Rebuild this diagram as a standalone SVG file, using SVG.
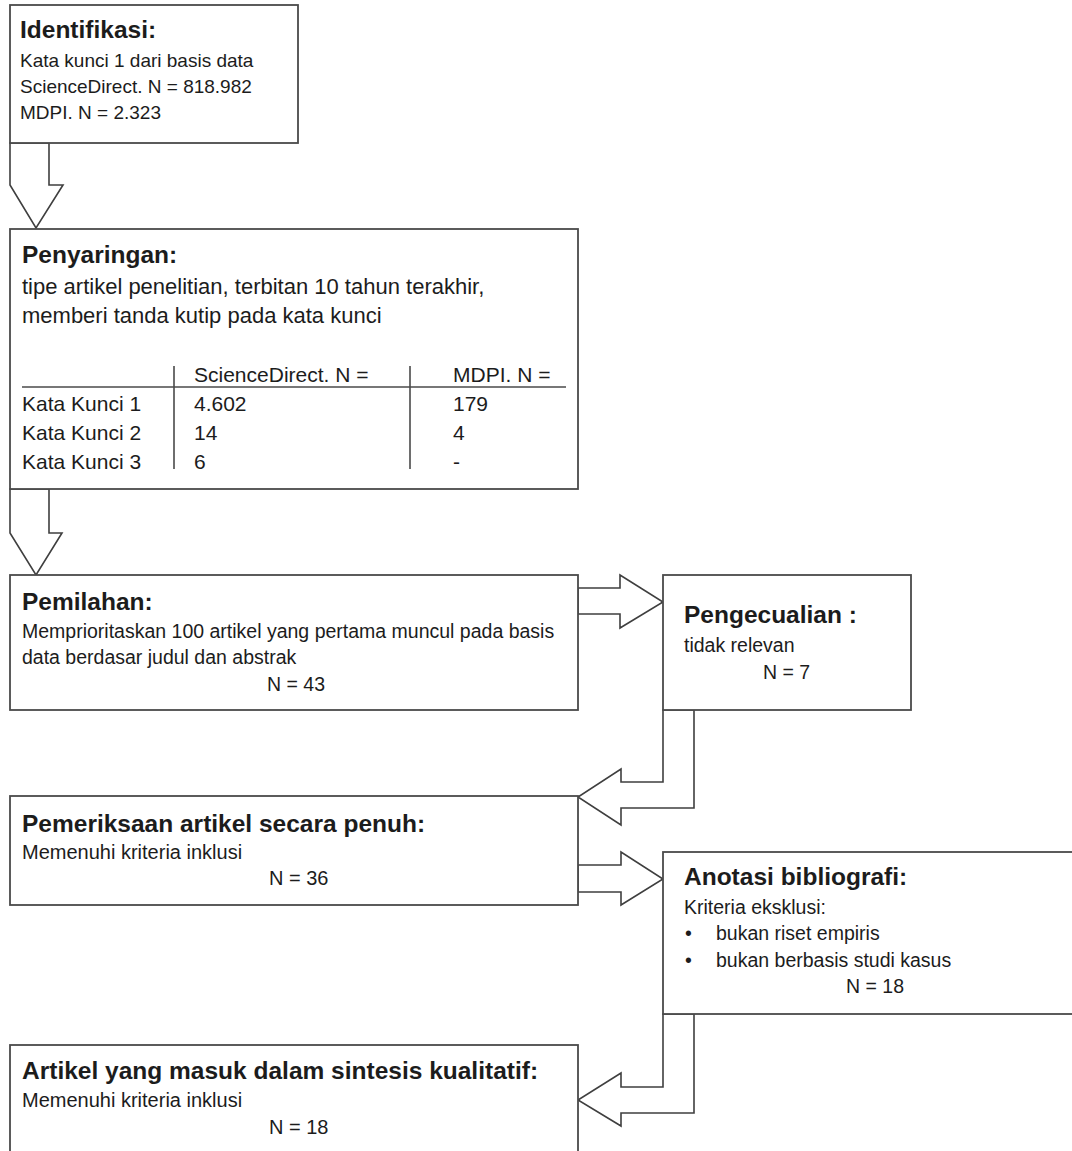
<svg xmlns="http://www.w3.org/2000/svg" width="1072" height="1151" viewBox="0 0 1072 1151">
<style>
.box{fill:#fff;stroke:#4a4a4a;stroke-width:1.8}
.arr{fill:#fff;stroke:#3f3f3f;stroke-width:1.6;stroke-linejoin:miter}
.tl{stroke:#4a4a4a;stroke-width:1.6;fill:none}
text{font-family:"Liberation Sans",Arial,sans-serif;fill:#1c1c1c}
.t{font-weight:bold;font-size:24.5px}
.b19{font-size:19px}
.b195{font-size:19.5px}
.b20{font-size:20px}
.b22{font-size:22px}
.b21{font-size:21px}
</style>
<rect width="1072" height="1151" fill="#fff"/>
<g id="connectors">
<polygon class="arr" points="49,143 49,185 63,185 36,228 10,185 10,143"/>
<polygon class="arr" points="49,489 49,533 62,533 36,575 10,533 10,489"/>
<polygon class="arr" points="578,588 620,588 620,575 663,602 620,628 620,614 578,614"/>
<polygon class="arr" points="663,710 663,782 621,782 621,769 578,797 621,825 621,808 694,808 694,710"/>
<polygon class="arr" points="578,865 621,865 621,852 663,879 621,905 621,892 578,892"/>
<polygon class="arr" points="663,1014 663,1087 621,1087 621,1073 578,1100 621,1126 621,1113 694,1113 694,1014"/>
</g>
<g id="identifikasi">
<rect class="box" x="10" y="5" width="288" height="138"/>
<text class="t" x="20" y="38">Identifikasi:</text>
<text class="b19" x="20" y="67">Kata kunci 1 dari basis data</text>
<text class="b19" x="20" y="93">ScienceDirect. N = 818.982</text>
<text class="b19" x="20" y="119">MDPI. N = 2.323</text>
</g>
<g id="penyaringan">
<rect class="box" x="10" y="229" width="568" height="260"/>
<text class="t" x="22" y="263">Penyaringan:</text>
<text class="b22" x="22" y="294">tipe artikel penelitian, terbitan 10 tahun terakhir,</text>
<text class="b22" x="22" y="323">memberi tanda kutip pada kata kunci</text>
<line class="tl" x1="22" y1="387" x2="566" y2="387"/>
<line class="tl" x1="174" y1="366" x2="174" y2="469"/>
<line class="tl" x1="410" y1="366" x2="410" y2="469"/>
<text class="b21" x="194" y="382">ScienceDirect. N =</text>
<text class="b21" x="453" y="382">MDPI. N =</text>
<text class="b21" x="22" y="411">Kata Kunci 1</text>
<text class="b21" x="194" y="411">4.602</text>
<text class="b21" x="453" y="411">179</text>
<text class="b21" x="22" y="440">Kata Kunci 2</text>
<text class="b21" x="194" y="440">14</text>
<text class="b21" x="453" y="440">4</text>
<text class="b21" x="22" y="469">Kata Kunci 3</text>
<text class="b21" x="194" y="469">6</text>
<text class="b21" x="453" y="469">-</text>
</g>
<g id="pemilahan">
<rect class="box" x="10" y="575" width="568" height="135"/>
<text class="t" x="22" y="610">Pemilahan:</text>
<text class="b195" x="22" y="638">Memprioritaskan 100 artikel yang pertama muncul pada basis</text>
<text class="b195" x="22" y="664">data berdasar judul dan abstrak</text>
<text class="b195" x="267" y="691">N = 43</text>
</g>
<g id="pengecualian">
<rect class="box" x="663" y="575" width="248" height="135"/>
<text class="t" x="684" y="623">Pengecualian :</text>
<text class="b195" x="684" y="652">tidak relevan</text>
<text class="b195" x="763" y="679">N = 7</text>
</g>
<g id="pemeriksaan">
<rect class="box" x="10" y="796" width="568" height="109"/>
<text class="t" x="22" y="832">Pemeriksaan artikel secara penuh:</text>
<text class="b20" x="22" y="859">Memenuhi kriteria inklusi</text>
<text class="b20" x="269" y="885">N = 36</text>
</g>
<g id="anotasi">
<rect class="box" x="663" y="852" width="412" height="162"/>
<text class="t" x="684" y="885">Anotasi bibliografi:</text>
<text class="b195" x="684" y="914">Kriteria eksklusi:</text>
<text class="b195" x="685" y="940">•</text>
<text class="b195" x="716" y="940">bukan riset empiris</text>
<text class="b195" x="685" y="967">•</text>
<text class="b195" x="716" y="967">bukan berbasis studi kasus</text>
<text class="b195" x="846" y="993">N = 18</text>
</g>
<g id="sintesis">
<rect class="box" x="10" y="1045" width="568" height="110"/>
<text class="t" x="22" y="1079">Artikel yang masuk dalam sintesis kualitatif:</text>
<text class="b20" x="22" y="1107">Memenuhi kriteria inklusi</text>
<text class="b20" x="269" y="1134">N = 18</text>
</g>
</svg>
